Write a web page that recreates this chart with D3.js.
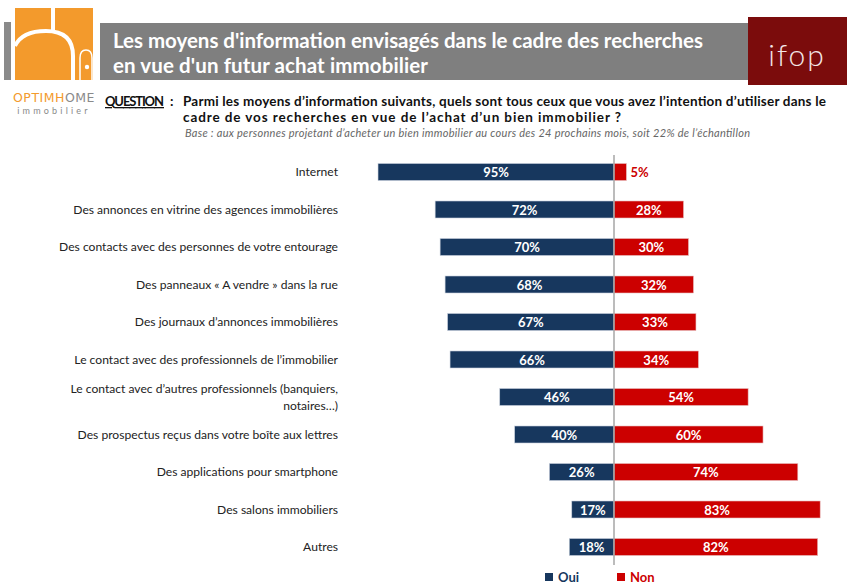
<!DOCTYPE html>
<html>
<head>
<meta charset="utf-8">
<script src="https://cdn.jsdelivr.net/npm/d3@7"></script>
<style>
  body { margin: 0; background: #fff; }
  svg { display: block; font-family: Lato, "Open Sans", sans-serif; }
</style>
</head>
<body>
<svg width="851" height="585"></svg>
<script>
// categories, top to bottom
const categories = [
  ["Internet"],
  ["Des annonces en vitrine des agences immobilières"],
  ["Des contacts avec des personnes de votre entourage"],
  ["Des panneaux « A vendre » dans la rue"],
  ["Des journaux d’annonces immobilières"],
  ["Le contact avec des professionnels de l’immobilier"],
  ["Le contact avec d’autres professionnels (banquiers,", "notaires…)"],
  ["Des prospectus reçus dans votre boîte aux lettres"],
  ["Des applications pour smartphone"],
  ["Des salons immobiliers"],
  ["Autres"]
];
const oui = [95, 72, 70, 68, 67, 66, 46, 40, 26, 17, 18];
const non = [5, 28, 30, 32, 33, 34, 54, 60, 74, 83, 82];
const seriesNames = ["Oui", "Non"];

const blue = "#17375e", red = "#cc0000";

const svg = d3.select("svg");

// ---- header ----
// optimhome logo (rough)
svg.append("rect").attr("x", 4).attr("y", 22).attr("width", 7).attr("height", 58).attr("fill", "#8a8a8a");
svg.append("rect").attr("x", 15).attr("y", 8).attr("width", 78).attr("height", 72).attr("fill", "#f39a2c");
svg.append("rect").attr("x", 51).attr("y", 8).attr("width", 4).attr("height", 24).attr("fill", "#fff");
svg.append("path").attr("d", "M15,46 Q22,31 46,31 Q73,31 73,56 L73,80").attr("fill", "none").attr("stroke", "#fff").attr("stroke-width", 4);
svg.append("path").attr("d", "M80,80 L80,58 Q80,50 86,50 Q92,50 92,58 L92,80").attr("fill", "none").attr("stroke", "#fff").attr("stroke-width", 1.5);
svg.append("circle").attr("cx", 87).attr("cy", 67).attr("r", 2.2).attr("fill", "#fff");
svg.append("text").attr("x", 54).attr("y", 102).attr("text-anchor", "middle")
  .attr("font-size", 12.5).attr("letter-spacing", 0.5).attr("font-family", "DejaVu Sans")
  .html('<tspan fill="#f39a2c">OPTIM</tspan><tspan fill="#f39a2c">H</tspan><tspan fill="#8a8a8a">OME</tspan>');
svg.append("text").attr("x", 54).attr("y", 114).attr("text-anchor", "middle")
  .attr("font-size", 9).attr("letter-spacing", 3.2).attr("fill", "#8a8a8a").text("immobilier");

// title band
svg.append("rect").attr("x", 100).attr("y", 23).attr("width", 650).attr("height", 57).attr("fill", "#7f7f7f");
svg.append("text").attr("x", 113).attr("y", 48).attr("fill", "#fff").attr("font-weight", "bold")
  .attr("font-size", 20.5).attr("textLength", 590).text("Les moyens d'information envisagés dans le cadre des recherches");
svg.append("text").attr("x", 113).attr("y", 73).attr("fill", "#fff").attr("font-weight", "bold")
  .attr("font-size", 20.5).attr("textLength", 315).text("en vue d'un futur achat immobilier");

// ifop box
svg.append("rect").attr("x", 748).attr("y", 17).attr("width", 99).attr("height", 68).attr("fill", "#7b0c0c");
svg.append("text").attr("x", 797).attr("y", 66).attr("text-anchor", "middle").attr("fill", "#f3e6e6")
  .attr("font-size", 30).attr("font-weight", 300).attr("letter-spacing", 2).text("ifop");

// question
svg.append("text").attr("x", 105).attr("y", 106).attr("font-size", 13).attr("font-weight", "bold")
  .attr("fill", "#111").attr("text-decoration", "underline").attr("textLength", 59).text("QUESTION");
svg.append("text").attr("x", 170).attr("y", 106).attr("font-size", 13.5).attr("font-weight", "bold")
  .attr("fill", "#111").text(":");
svg.append("text").attr("x", 183).attr("y", 106).attr("font-size", 13.5).attr("font-weight", "bold")
  .attr("fill", "#111").attr("textLength", 643).text("Parmi les moyens d’information suivants, quels sont tous ceux que vous avez l’intention d’utiliser dans le");
svg.append("text").attr("x", 183).attr("y", 122).attr("font-size", 13.5).attr("font-weight", "bold")
  .attr("fill", "#111").attr("textLength", 438).text("cadre de vos recherches en vue de l’achat d’un bien immobilier ?");
svg.append("text").attr("x", 185).attr("y", 137).attr("font-size", 11).attr("font-style", "italic")
  .attr("fill", "#666").attr("textLength", 565).text("Base : aux personnes projetant d’acheter un bien immobilier au cours des 24 prochains mois, soit 22% de l’échantillon");

// ---- chart ----
const x = d3.scaleLinear().domain([-100, 100]).range([365.6, 862.4]);
const y = d3.scalePoint().domain(d3.range(categories.length)).range([172, 547]);
const barH = 17;

const rows = categories.map((c, i) => ({ lines: c, oui: oui[i], non: non[i], i: i }));

const g = svg.append("g");

g.selectAll(".bar-oui").data(rows).enter().append("rect")
  .attr("class", "bar-oui")
  .attr("x", d => x(-d.oui)).attr("y", d => y(d.i) - barH / 2)
  .attr("width", d => x(0) - x(-d.oui)).attr("height", barH)
  .attr("fill", blue).attr("stroke", "#c8d0dc").attr("stroke-width", 0.6);

g.selectAll(".bar-non").data(rows).enter().append("rect")
  .attr("class", "bar-non")
  .attr("x", x(0)).attr("y", d => y(d.i) - barH / 2)
  .attr("width", d => x(d.non) - x(0)).attr("height", barH)
  .attr("fill", red).attr("stroke", "#e8c0c0").attr("stroke-width", 0.6);

// zero line
g.append("line").attr("x1", x(0)).attr("x2", x(0)).attr("y1", 155).attr("y2", 565)
  .attr("stroke", "#a6a6a6").attr("stroke-width", 1.5);

g.selectAll(".lab-oui").data(rows).enter().append("text")
  .attr("x", d => (x(-d.oui) + x(0)) / 2).attr("y", d => y(d.i) + 5)
  .attr("text-anchor", "middle").attr("fill", "#fff").attr("font-weight", "bold").attr("font-size", 13)
  .text(d => d.oui + "%");

g.selectAll(".lab-non").data(rows).enter().append("text")
  .attr("x", d => d.non < 10 ? x(d.non) + 4 : (x(0) + x(d.non)) / 2)
  .attr("y", d => y(d.i) + 5)
  .attr("text-anchor", d => d.non < 10 ? "start" : "middle")
  .attr("fill", d => d.non < 10 ? red : "#fff").attr("font-weight", "bold").attr("font-size", 13)
  .text(d => d.non + "%");

// category labels
const cat = g.selectAll(".cat").data(rows).enter().append("text")
  .attr("class", "cat").attr("text-anchor", "end").attr("font-size", 12.1).attr("fill", "#222")
  .attr("y", d => y(d.i) + 4 - (d.lines.length - 1) * 8);
cat.selectAll("tspan").data(d => d.lines).enter().append("tspan")
  .attr("x", 338).attr("dy", (d, j) => j === 0 ? 0 : 17).text(d => d);

// legend
const leg = svg.append("g").selectAll("g").data(seriesNames).enter().append("g")
  .attr("transform", (d, i) => `translate(${545 + i * 72},573)`);
leg.append("rect").attr("width", 8).attr("height", 8).attr("fill", (d, i) => i ? red : blue);
leg.append("text").attr("x", 13).attr("y", 9).attr("font-size", 13).attr("font-weight", "bold")
  .attr("fill", (d, i) => i ? red : blue).text(d => d);
</script>
</body>
</html>
